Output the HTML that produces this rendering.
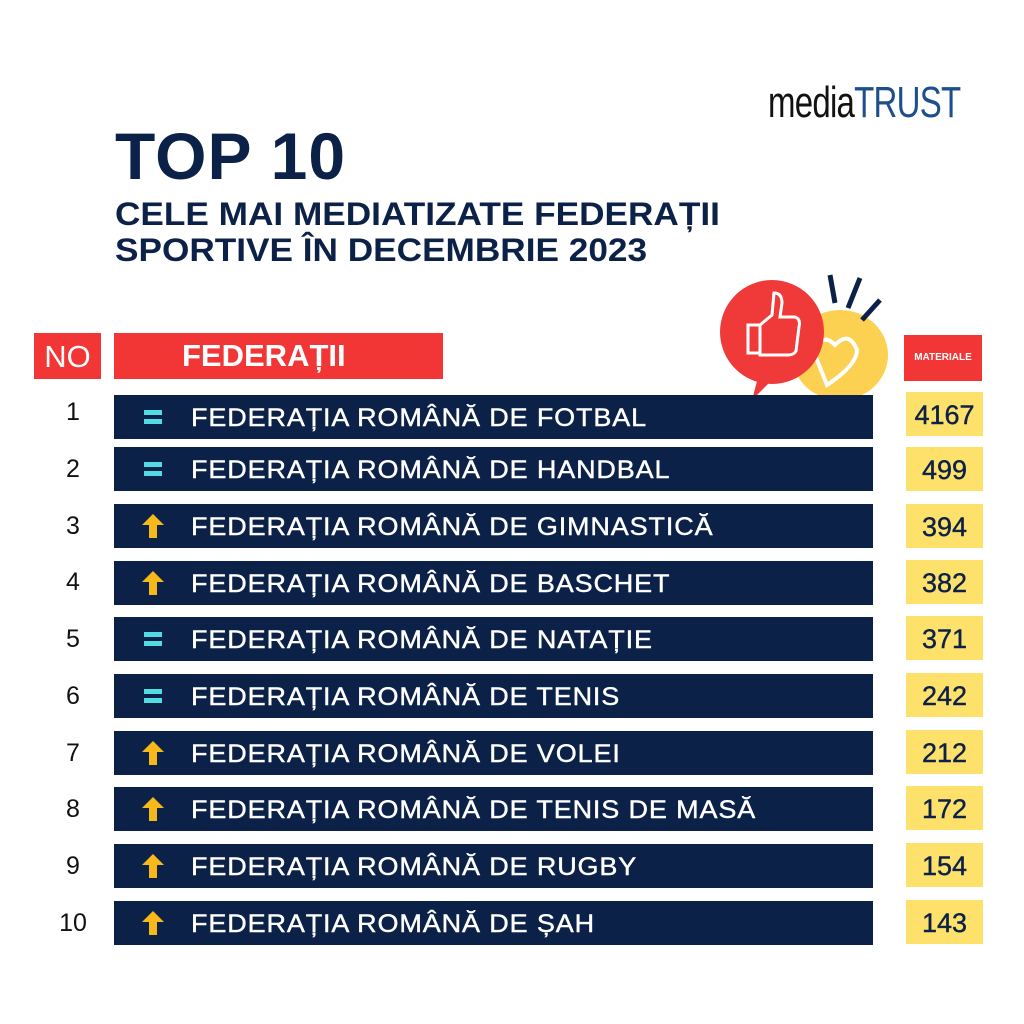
<!DOCTYPE html><html><head><style>
body{margin:0;width:1024px;height:1024px;background:#fff;position:relative;font-family:"Liberation Sans",sans-serif;overflow:hidden}
.a{position:absolute}
.navy{color:#0c2148}
.bar{position:absolute;left:114px;width:759px;height:44px;background:#0c2148;color:#fff;font-size:25px;line-height:44px}
.bar span{position:absolute;left:77px;top:1px;transform:scaleX(1.08);transform-origin:left;letter-spacing:0.8px;-webkit-text-stroke:0.4px #fff}
.num{position:absolute;width:50px;left:48px;text-align:center;font-size:25px;color:#111}
.val{position:absolute;left:906px;width:77px;height:44px;background:#fde16a;color:#0c2148;font-size:27px;line-height:46px;text-align:center;-webkit-text-stroke:0.4px #0c2148}
.eq{position:absolute;left:30px;top:15px;width:18px;height:5px;background:#52dbe2;box-shadow:0 9px 0 #52dbe2}
.up{position:absolute;left:28px;top:10px}
</style></head><body>
<div class="a" style="left:768px;top:78px;font-size:44px;transform:scaleX(0.75);transform-origin:left;letter-spacing:-1px"><span style="color:#111">media</span><span style="color:#1c4f8c">TRUST</span></div>
<div class="a navy" style="left:115px;top:118px;font-size:66px;font-weight:bold;letter-spacing:1px">TOP 10</div>
<div class="a navy" style="left:115px;top:196px;font-size:32px;font-weight:bold;line-height:36px;transform:scaleX(1.1);transform-origin:left">CELE MAI MEDIATIZATE FEDERAȚII<br>SPORTIVE ÎN DECEMBRIE 2023</div>
<svg class="a" style="left:715px;top:270px" width="190" height="130">
<ellipse cx="125" cy="85" rx="48" ry="45" fill="#fcd050"/>
<path d="M98 80 q10 -18 22 -5 q14 -15 22 5 q0 15 -30 35 z" fill="none" stroke="#fff" stroke-width="4"/>
<circle cx="57" cy="62" r="52" fill="#f03a3a"/>
<path d="M45 100 l-8 30 l25 -25z" fill="#f03a3a"/>
<rect x="33" y="55" width="12" height="28" fill="none" stroke="#fff" stroke-width="3"/>
<path d="M45 55 l12 -10 l2 -22 q8 0 8 10 l-2 14 h15 q6 2 4 10 l-3 24 q-2 4 -8 4 h-28z" fill="none" stroke="#fff" stroke-width="3"/>
<path d="M115 5 l5 28 M145 8 l-12 30 M165 30 l-18 20" stroke="#0c2148" stroke-width="5"/>
</svg>
<div class="a" style="left:34px;top:333px;width:67px;height:46px;background:#f23535;color:#fff;font-size:31px;line-height:48px;text-align:center">NO</div>
<div class="a" style="left:114px;top:333px;width:329px;height:46px;background:#f23535;color:#fff;font-size:31px;line-height:46px;font-weight:bold"><span style="position:absolute;left:68px">FEDERAȚII</span></div>
<div class="a" style="left:904px;top:335px;width:78px;height:46px;background:#f23535;color:#fff;font-size:10px;font-weight:bold;line-height:46px;text-align:center">MATERIALE</div>

<div class="num" style="top:398px">1</div><div class="bar" style="top:395px"><i class="eq"></i><span>FEDERAȚIA ROMÂNĂ DE FOTBAL</span></div><div class="val" style="top:392px">4167</div>
<div class="num" style="top:455px">2</div><div class="bar" style="top:447px"><i class="eq"></i><span>FEDERAȚIA ROMÂNĂ DE HANDBAL</span></div><div class="val" style="top:447px">499</div>
<div class="num" style="top:512px">3</div><div class="bar" style="top:504px"><svg class="up" width="22" height="24"><path d="M11 0 L22 11 H15 V24 H7 V11 H0z" fill="#f7b81c"/></svg><span>FEDERAȚIA ROMÂNĂ DE GIMNASTICĂ</span></div><div class="val" style="top:504px">394</div>
<div class="num" style="top:568px">4</div><div class="bar" style="top:561px"><svg class="up" width="22" height="24"><path d="M11 0 L22 11 H15 V24 H7 V11 H0z" fill="#f7b81c"/></svg><span>FEDERAȚIA ROMÂNĂ DE BASCHET</span></div><div class="val" style="top:560px">382</div>
<div class="num" style="top:625px">5</div><div class="bar" style="top:617px"><i class="eq"></i><span>FEDERAȚIA ROMÂNĂ DE NATAȚIE</span></div><div class="val" style="top:616px">371</div>
<div class="num" style="top:682px">6</div><div class="bar" style="top:674px"><i class="eq"></i><span>FEDERAȚIA ROMÂNĂ DE TENIS</span></div><div class="val" style="top:673px">242</div>
<div class="num" style="top:739px">7</div><div class="bar" style="top:731px"><svg class="up" width="22" height="24"><path d="M11 0 L22 11 H15 V24 H7 V11 H0z" fill="#f7b81c"/></svg><span>FEDERAȚIA ROMÂNĂ DE VOLEI</span></div><div class="val" style="top:730px">212</div>
<div class="num" style="top:795px">8</div><div class="bar" style="top:787px"><svg class="up" width="22" height="24"><path d="M11 0 L22 11 H15 V24 H7 V11 H0z" fill="#f7b81c"/></svg><span>FEDERAȚIA ROMÂNĂ DE TENIS DE MASĂ</span></div><div class="val" style="top:786px">172</div>
<div class="num" style="top:852px">9</div><div class="bar" style="top:844px"><svg class="up" width="22" height="24"><path d="M11 0 L22 11 H15 V24 H7 V11 H0z" fill="#f7b81c"/></svg><span>FEDERAȚIA ROMÂNĂ DE RUGBY</span></div><div class="val" style="top:843px">154</div>
<div class="num" style="top:909px">10</div><div class="bar" style="top:901px"><svg class="up" width="22" height="24"><path d="M11 0 L22 11 H15 V24 H7 V11 H0z" fill="#f7b81c"/></svg><span>FEDERAȚIA ROMÂNĂ DE ȘAH</span></div><div class="val" style="top:900px">143</div>
</body></html>
